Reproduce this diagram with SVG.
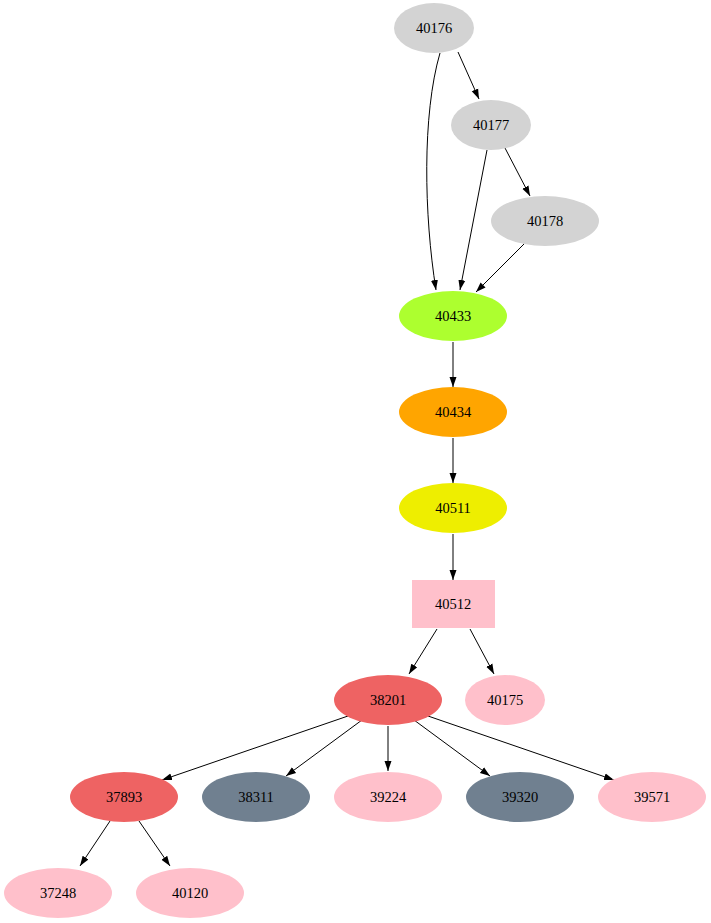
<svg xmlns="http://www.w3.org/2000/svg" width="711" height="923" viewBox="0 0 711 923">
<defs>
<marker id="a" viewBox="0 0 10 10" refX="10" refY="5" markerWidth="10" markerHeight="10" markerUnits="userSpaceOnUse" orient="auto"><path d="M0,1.5 L10,5 L0,8.5 z" fill="#000"/></marker>
<style>
text{font-family:"Liberation Serif",serif;font-size:14.5px;text-anchor:middle;dominant-baseline:central;fill:#000}
.e path{fill:none;stroke:#000;stroke-width:1;marker-end:url(#a)}
.g{fill:#d3d3d3}.p{fill:#ffc0cb}.r{fill:#ee6363}.s{fill:#708090}
</style>
</defs>
<rect width="711" height="923" fill="#fff"/>
<g class="e">
<path d="M440,53 C422,115 424,215 436,290"/>
<path d="M458,52 L479,99"/>
<path d="M487,150 L460,290"/>
<path d="M505,148 L530,196"/>
<path d="M524,244 L476,292"/>
<path d="M453,342 L453,387"/>
<path d="M453,438 L453,483"/>
<path d="M453,534 L453,580"/>
<path d="M437,629 L409,674"/>
<path d="M470,629 L494,674"/>
<path d="M348,716 L162,780"/>
<path d="M362,720 L286,776"/>
<path d="M388,726 L388,771"/>
<path d="M414,720 L490,776"/>
<path d="M428,716 L614,780"/>
<path d="M110,821 L80,866"/>
<path d="M139,821 L170,866"/>
</g>
<g id="n40176"><ellipse class="g" cx="434" cy="28" rx="40" ry="25"/><text x="434" y="28">40176</text></g>
<g id="n40177"><ellipse class="g" cx="491" cy="125" rx="40" ry="25"/><text x="491" y="125">40177</text></g>
<g id="n40178"><ellipse class="g" cx="545" cy="221" rx="54" ry="25"/><text x="545" y="221">40178</text></g>
<g id="n40433"><ellipse fill="#adff2f" cx="453" cy="316" rx="54" ry="25"/><text x="453" y="316">40433</text></g>
<g id="n40434"><ellipse fill="#ffa500" cx="453" cy="412" rx="54" ry="25"/><text x="453" y="412">40434</text></g>
<g id="n40511"><ellipse fill="#eeee00" cx="453" cy="508" rx="54" ry="25"/><text x="453" y="508">40511</text></g>
<g id="n40512"><rect class="p" x="412" y="580" width="83" height="48"/><text x="453" y="604">40512</text></g>
<g id="n38201"><ellipse class="r" cx="388" cy="700" rx="54" ry="25"/><text x="388" y="700">38201</text></g>
<g id="n40175"><ellipse class="p" cx="505" cy="700" rx="40" ry="25"/><text x="505" y="700">40175</text></g>
<g id="n37893"><ellipse class="r" cx="124" cy="797" rx="54" ry="25"/><text x="124" y="797">37893</text></g>
<g id="n38311"><ellipse class="s" cx="256" cy="797" rx="54" ry="25"/><text x="256" y="797">38311</text></g>
<g id="n39224"><ellipse class="p" cx="388" cy="797" rx="54" ry="25"/><text x="388" y="797">39224</text></g>
<g id="n39320"><ellipse class="s" cx="520" cy="797" rx="54" ry="25"/><text x="520" y="797">39320</text></g>
<g id="n39571"><ellipse class="p" cx="652" cy="797" rx="54" ry="25"/><text x="652" y="797">39571</text></g>
<g id="n37248"><ellipse class="p" cx="58" cy="893" rx="54" ry="25"/><text x="58" y="893">37248</text></g>
<g id="n40120"><ellipse class="p" cx="190" cy="893" rx="54" ry="25"/><text x="190" y="893">40120</text></g>
</svg>
